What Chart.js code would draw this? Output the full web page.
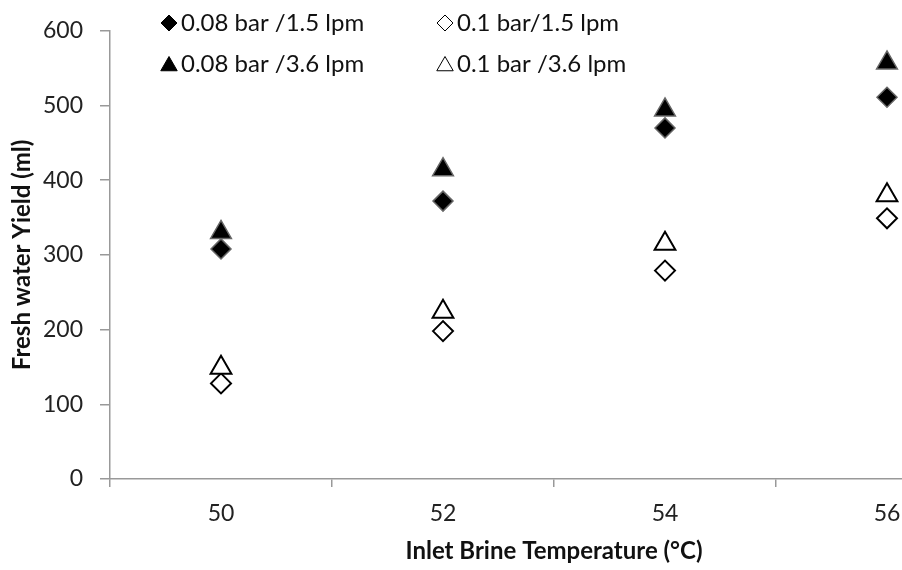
<!DOCTYPE html>
<html>
<head>
<meta charset="utf-8">
<script src="https://cdn.jsdelivr.net/npm/chart.js@4/dist/chart.umd.min.js"></script>
<style>
  html, body { margin: 0; padding: 0; background: #fff; }
  #wrap { width: 902px; height: 570px; overflow: hidden; position: relative; }
</style>
</head>
<body>
<div id="wrap"><canvas id="chart" width="1012" height="570"></canvas></div>
<script>
// Inlet brine temperature (°C) categories
const temperatures = ['50', '52', '54', '56'];

// Fresh water yield (ml) per test condition
const yield008bar15lpm = [308, 372, 470, 511];
const yield01bar15lpm  = [128, 198, 279, 349];
const yield008bar36lpm = [330, 414, 494, 557];
const yield01bar36lpm  = [149, 224, 315, 380];

const seriesLabels = ['0.08 bar /1.5 lpm', '0.1 bar/1.5 lpm', '0.08 bar /3.6 lpm', '0.1 bar /3.6 lpm'];
const yTicks = [0, 100, 200, 300, 400, 500, 600];

const FONT = 'Lato, "Open Sans", sans-serif';

// legend in two columns at the top of the plot, like the Excel original
const cornerLegend = {
  id: 'cornerLegend',
  afterDraw(chart) {
    const ctx = chart.ctx;
    const cols = [169, 445];
    const rows = [23, 64];
    ctx.save();
    ctx.font = '24px ' + FONT;
    ctx.textBaseline = 'middle';
    ctx.textAlign = 'left';
    chart.data.datasets.forEach((ds, i) => {
      const x = cols[i % 2];
      const y = rows[Math.floor(i / 2)];
      const tri = ds.pointStyle === 'triangle';
      ctx.fillStyle = ds.legendFill;
      ctx.strokeStyle = '#000';
      Chart.helpers.drawPoint(ctx, {
        pointStyle: ds.pointStyle,
        radius: tri ? 9.5 : 8,
        rotation: 0,
        borderWidth: 1.5
      }, x, tri ? y + 2 : y);
      ctx.fillStyle = '#111';
      ctx.fillText(ds.label, x + 12, y);
    });
    ctx.restore();
  }
};

function series(label, data, style, filled, order) {
  return {
    label: label,
    data: data,
    showLine: false,
    pointStyle: style,
    pointRadius: style === 'triangle' ? 12 : 10,
    pointHoverRadius: style === 'triangle' ? 12 : 10,
    pointBackgroundColor: filled ? '#000' : '#fff',
    pointBorderColor: filled ? '#666' : '#000',
    pointBorderWidth: filled ? 1.5 : 2,
    legendFill: filled ? '#000' : '#fff',
    order: order
  };
}

new Chart(document.getElementById('chart'), {
  type: 'line',
  data: {
    labels: temperatures,
    datasets: [
      series(seriesLabels[0], yield008bar15lpm, 'rectRot', true, 3),
      series(seriesLabels[1], yield01bar15lpm, 'rectRot', false, 2),
      series(seriesLabels[2], yield008bar36lpm, 'triangle', true, 1),
      series(seriesLabels[3], yield01bar36lpm, 'triangle', false, 0)
    ]
  },
  options: {
    responsive: false,
    animation: false,
    layout: { padding: { top: 29, right: 2, left: 0, bottom: 0 } },
    plugins: {
      legend: { display: false },
      tooltip: { enabled: false }
    },
    scales: {
      x: {
        type: 'category',
        offset: true,
        afterFit: s => { s.height = 91; },
        grid: {
          offset: true,
          drawOnChartArea: false,
          tickLength: 8,
          color: '#999',
          lineWidth: 1.5
        },
        border: { color: '#999', width: 1.5 },
        ticks: {
          color: '#222',
          padding: 13,
          font: { family: FONT, size: 23 }
        },
        title: {
          display: true,
          text: 'Inlet Brine Temperature (°C)',
          color: '#111',
          font: { family: FONT, size: 24, weight: 'bold' },
          padding: { top: 0, bottom: 4 }
        }
      },
      y: {
        min: 0,
        max: 600,
        afterFit: s => { s.width = 110; },
        afterBuildTicks: s => { s.ticks = yTicks.map(v => ({ value: v })); },
        grid: {
          drawOnChartArea: false,
          tickLength: 10,
          color: '#999',
          lineWidth: 1.5
        },
        border: { color: '#999', width: 1.5 },
        ticks: {
          color: '#222',
          padding: 17,
          font: { family: FONT, size: 23 }
        },
        title: {
          display: true,
          text: 'Fresh water Yield (ml)',
          color: '#111',
          font: { family: FONT, size: 24, weight: 'bold' },
          padding: { top: 8, bottom: 0 }
        }
      }
    }
  },
  plugins: [cornerLegend]
});
</script>
</body>
</html>
